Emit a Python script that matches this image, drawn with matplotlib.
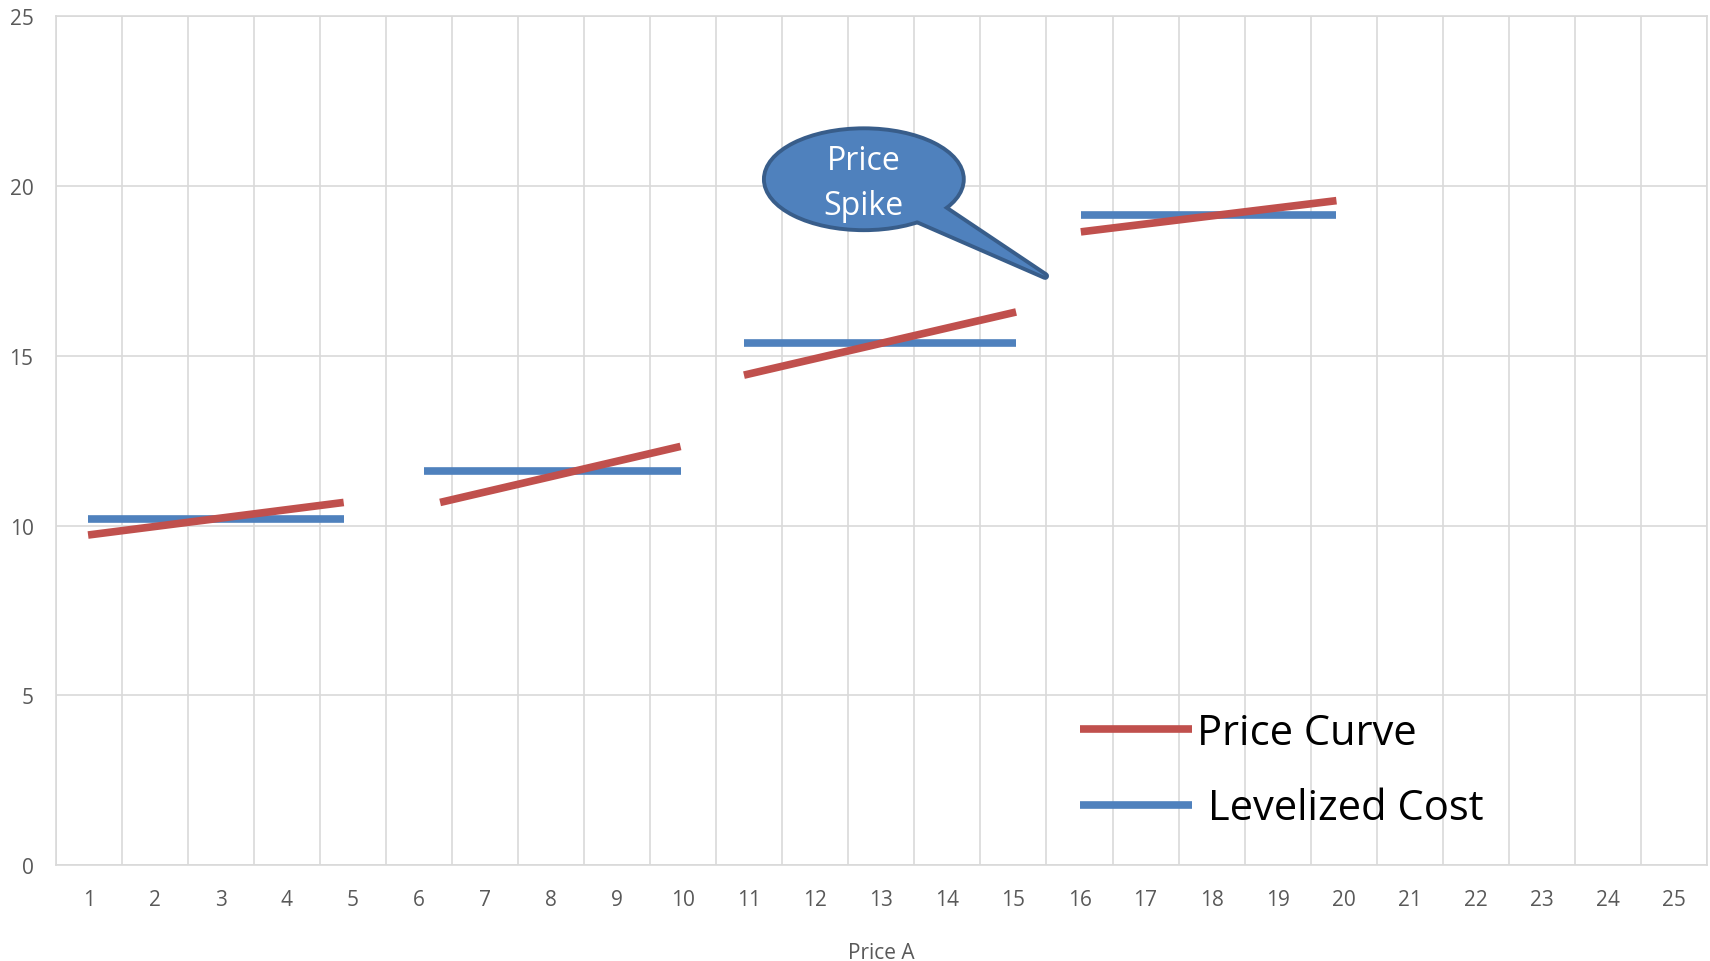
import matplotlib
matplotlib.use("Agg")
import matplotlib.pyplot as plt
from matplotlib.patches import Ellipse, Polygon
from matplotlib.lines import Line2D

# ---------------- data ----------------
categories = list(range(1, 26))
y_ticks = [0, 5, 10, 15, 20, 25]

# Price Curve: one straight piece per block (start x, end x, start y, end y)
price_x_start = [0.99, 6.32, 10.92, 16.02]
price_x_end = [4.86, 9.96, 15.04, 19.89]
price_y_start = [9.72, 10.68, 14.43, 18.65]
price_y_end = [10.68, 12.33, 16.29, 19.57]

# Levelized Cost: one flat level per block
cost_x_start = [0.99, 6.07, 10.92, 16.02]
cost_x_end = [4.86, 9.96, 15.04, 19.89]
cost_level = [10.18, 11.60, 15.38, 19.14]

x_label = "Price A"
series_names = ["Price Curve", " Levelized Cost"]
callout_lines = ["Price", "Spike"]

# callout anchor (point of the spike) and bubble, in data units
spike_point = (15.48, 17.35)
bubble_center = (12.735, 20.20)
bubble_size = (2.967, 2.886)
tail_base = [(13.51, 19.02), (13.93, 19.37)]

# ---------------- style ----------------
RED = "#C0504D"
BLUE = "#4F81BD"
DARK_BLUE = "#385D8A"
GRID = "#D9D9D9"
TXT = "#595959"

plt.rcParams["font.family"] = ["Open Sans", "DejaVu Sans"]

fig = plt.figure(figsize=(17.1, 9.62), dpi=100)
W, H = 1710, 962
ax = fig.add_axes([55.7 / W, 1 - 866 / H, (1707 - 55.7) / W, (866 - 17.3) / H])

ax.set_xlim(0.5, 25.5)
ax.set_ylim(0, 25)
ax.set_xticks(categories)
ax.set_xticklabels([str(c) for c in categories])
ax.set_xticks([c - 0.5 for c in categories] + [25.5], minor=True)
ax.set_yticks(y_ticks)
ax.set_yticklabels([str(v) for v in y_ticks])

ax.grid(which="minor", axis="x", color=GRID, lw=1.2)
ax.grid(which="major", axis="y", color=GRID, lw=1.2)
ax.set_axisbelow(True)
for s in ax.spines.values():
    s.set_color(GRID)
    s.set_linewidth(1.2)

ax.tick_params(axis="both", which="both", length=0)
ax.tick_params(axis="x", which="major", pad=17, labelsize=15, labelcolor=TXT)
ax.tick_params(axis="y", which="major", pad=16, labelsize=15, labelcolor=TXT)
ax.set_xlabel(x_label, fontsize=15, color=TXT, labelpad=23)

LW = 5.5
for xs, xe, ys, ye in zip(price_x_start, price_x_end, price_y_start, price_y_end):
    ax.plot([xs, xe], [ys, ye], color=RED, lw=LW, solid_capstyle="butt", zorder=4)
for xs, xe, lv in zip(cost_x_start, cost_x_end, cost_level):
    ax.plot([xs, xe], [lv, lv], color=BLUE, lw=LW, solid_capstyle="butt", zorder=3)

# ---------------- callout bubble ----------------
tri = [tail_base[0], tail_base[1], spike_point]
for lw, ec, z in [(5.6, DARK_BLUE, 6), (0, "none", 7)]:
    ax.add_patch(Ellipse(bubble_center, bubble_size[0], bubble_size[1],
                         facecolor=BLUE, edgecolor=ec, lw=lw, zorder=z))
    ax.add_patch(Polygon(tri, closed=True, facecolor=BLUE, edgecolor=ec,
                         lw=lw, joinstyle="round", zorder=z))
ax.text(bubble_center[0], 20.50, callout_lines[0], ha="center", va="baseline",
        fontsize=23, color="white", zorder=8)
ax.text(bubble_center[0], 19.19, callout_lines[1], ha="center", va="baseline",
        fontsize=23, color="white", zorder=8)

# ---------------- legend ----------------
handles = [Line2D([], [], color=RED, lw=LW, solid_capstyle="butt"),
           Line2D([], [], color=BLUE, lw=LW, solid_capstyle="butt")]
ax.legend(handles, series_names, loc="upper left",
          bbox_to_anchor=(1080 / W, 1 - 713 / H), bbox_transform=fig.transFigure,
          frameon=False, fontsize=30, handlelength=2.69, handletextpad=0.12,
          labelspacing=0.80, borderpad=0, borderaxespad=0)

fig.savefig("out.png", dpi=100)
